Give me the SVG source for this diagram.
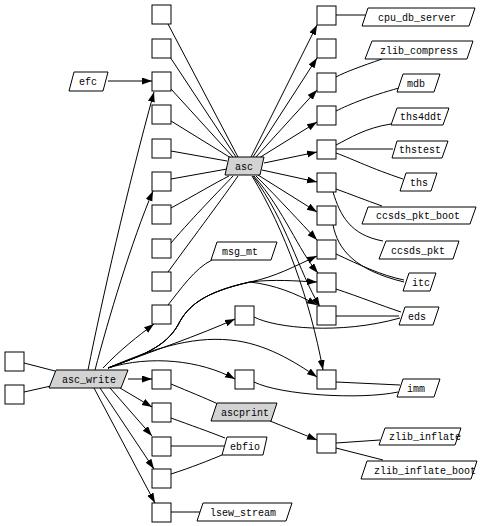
<svg xmlns="http://www.w3.org/2000/svg" width="482" height="526" viewBox="0 0 482 526">
<style>
.b{fill:#fff;stroke:#000;stroke-width:1}
.p{fill:#fff;stroke:#000;stroke-width:1}
.g{fill:#d3d3d3;stroke:#000;stroke-width:1}
text{font-family:"Liberation Mono","DejaVu Sans Mono",monospace;font-size:10px;text-anchor:middle;fill:#000;opacity:0.99}
#edges path{fill:none;stroke:#000;stroke-width:1}
#edges path.a{marker-end:url(#ah)}
</style>
<defs>
<marker id="ah" markerWidth="10" markerHeight="8" refX="10" refY="3.5" orient="auto" markerUnits="userSpaceOnUse">
<path d="M0,0 L10,3.5 L0,7 z" fill="#000"/>
</marker>
</defs>
<rect width="482" height="526" fill="#fff"/>
<g id="edges">
<path d="M24,363 L55,371"/>
<path d="M24,392 L51,386"/>
<path class="a" d="M108,81 L152,81"/>
<path d="M168,24 L238,157"/>
<path d="M170,57 L236,157"/>
<path d="M171,89 L233,157"/>
<path d="M171,121 L231,158"/>
<path d="M171,151 L227,161"/>
<path d="M171,179 L227,169"/>
<path d="M171,208 C195,195 215,183 229,176"/>
<path d="M171,243 C195,215 220,190 233,176"/>
<path d="M168,272 C195,235 225,195 238,176"/>
<path class="a" d="M251,157 L317,25"/>
<path class="a" d="M253,157 L317,58"/>
<path class="a" d="M256,157 L317,90"/>
<path class="a" d="M259,158 L317,122"/>
<path class="a" d="M264,163 L317,152"/>
<path class="a" d="M262,170 L317,182"/>
<path class="a" d="M258,175 L317,212"/>
<path class="a" d="M256,176 C280,200 300,222 317,240"/>
<path class="a" d="M254,176 C285,212 298,250 318,273"/>
<path class="a" d="M253,176 C287,222 298,270 320,307"/>
<path class="a" d="M252,176 C285,230 310,300 323,370"/>
<path class="a" d="M88,370 C102,300 127,190 154,92"/>
<path class="a" d="M95,370 C108,320 132,240 153,191"/>
<path class="a" d="M103,368 C120,350 138,336 154,324"/>
<path class="a" d="M128,379 L152,379"/>
<path class="a" d="M120,388 L152,407"/>
<path class="a" d="M110,388 L152,436"/>
<path class="a" d="M100,388 L154,469"/>
<path class="a" d="M94,388 L155,503"/>
<path class="a" d="M108,368 C140,356 165,348 178,325 C188,305 205,292 250,282 C275,277 295,266 317,256"/>
<path class="a" d="M108,368 C140,356 165,348 178,325 C188,305 205,292 250,282 C275,279 295,281 317,282"/>
<path class="a" d="M108,368 C140,356 165,348 178,325 C188,305 205,292 250,282 C275,285 295,293 317,305"/>
<path class="a" d="M108,368 C150,352 200,335 235,319"/>
<path class="a" d="M108,368 C150,350 190,336 230,340 C265,343 295,362 317,377"/>
<path class="a" d="M108,368 C150,355 200,360 235,379"/>
<path class="a" d="M270,421 C285,427 300,433 317,440"/>
<path d="M168,305 C180,290 195,268 212,260"/>
<path d="M171,384 C190,392 205,398 218,404"/>
<path d="M171,418 C190,425 210,432 225,438"/>
<path d="M171,446 L224,446"/>
<path d="M171,474 C190,468 210,460 222,455"/>
<path d="M171,512 L200,512"/>
<path d="M336,15 L365,15"/>
<path d="M336,77 C345,72 362,66 382,59"/>
<path d="M336,111 C350,104 370,96 399,88"/>
<path d="M336,145 C350,138 365,128 391,124"/>
<path d="M336,149 L393,149"/>
<path d="M336,153 C355,160 370,168 403,179"/>
<path d="M336,189 C350,194 365,200 382,206"/>
<path d="M333,192 C340,215 350,235 383,241"/>
<path d="M333,225 C338,250 355,270 404,282"/>
<path d="M336,254 C360,265 380,275 404,280"/>
<path d="M336,289 C360,297 380,305 401,312"/>
<path d="M336,316 L399,316"/>
<path d="M254,317 C275,328 340,335 400,318"/>
<path d="M336,382 L400,385"/>
<path d="M254,382 C280,395 360,400 398,392"/>
<path d="M336,443 L380,440"/>
<path d="M336,448 L383,460"/>
</g>
<g id="L1"><rect class="b" x="152" y="5" width="19" height="19"/></g>
<g id="L2"><rect class="b" x="152" y="39" width="19" height="19"/></g>
<g id="L3"><rect class="b" x="152" y="72" width="19" height="19"/></g>
<g id="L4"><rect class="b" x="152" y="105" width="19" height="19"/></g>
<g id="L5"><rect class="b" x="152" y="139" width="19" height="19"/></g>
<g id="L6"><rect class="b" x="152" y="172" width="19" height="19"/></g>
<g id="L7"><rect class="b" x="152" y="205" width="19" height="19"/></g>
<g id="L8"><rect class="b" x="152" y="239" width="19" height="19"/></g>
<g id="L9"><rect class="b" x="152" y="272" width="19" height="19"/></g>
<g id="L10"><rect class="b" x="152" y="305" width="19" height="19"/></g>
<g id="L11"><rect class="b" x="152" y="370" width="19" height="19"/></g>
<g id="L12"><rect class="b" x="152" y="403" width="19" height="19"/></g>
<g id="L13"><rect class="b" x="152" y="437" width="19" height="19"/></g>
<g id="L14"><rect class="b" x="152" y="469" width="19" height="19"/></g>
<g id="L15"><rect class="b" x="152" y="503" width="19" height="19"/></g>
<g id="R1"><rect class="b" x="317" y="6" width="19" height="19"/></g>
<g id="R2"><rect class="b" x="317" y="39" width="19" height="19"/></g>
<g id="R3"><rect class="b" x="317" y="73" width="19" height="19"/></g>
<g id="R4"><rect class="b" x="317" y="106" width="19" height="19"/></g>
<g id="R5"><rect class="b" x="317" y="140" width="19" height="19"/></g>
<g id="R6"><rect class="b" x="317" y="173" width="19" height="19"/></g>
<g id="R7"><rect class="b" x="317" y="206" width="19" height="19"/></g>
<g id="R8"><rect class="b" x="317" y="240" width="19" height="19"/></g>
<g id="R9"><rect class="b" x="317" y="273" width="19" height="19"/></g>
<g id="R10"><rect class="b" x="317" y="306" width="19" height="19"/></g>
<g id="R11"><rect class="b" x="317" y="370" width="19" height="19"/></g>
<g id="R12"><rect class="b" x="317" y="434" width="19" height="19"/></g>
<g id="M1"><rect class="b" x="235" y="306" width="19" height="19"/></g>
<g id="M2"><rect class="b" x="235" y="370" width="19" height="19"/></g>
<g id="F1"><rect class="b" x="5" y="352" width="19" height="19"/></g>
<g id="F2"><rect class="b" x="5" y="385" width="19" height="19"/></g>
<g id="asc"><polygon class="g" points="225,175 229,157 264,157 260,175"/><text x="244" y="170">asc</text></g>
<g id="asc_write"><polygon class="g" points="49,388 56,370 128,370 121,388"/><text x="89" y="383">asc_write</text></g>
<g id="ascprint"><polygon class="g" points="211,421 217,403 277,403 271,421"/><text x="245" y="416">ascprint</text></g>
<g id="efc"><polygon class="p" points="69,91 74,72 108,72 103,91"/><text x="88" y="85">efc</text></g>
<g id="msg_mt"><polygon class="p" points="211,260 217,242 277,242 271,260"/><text x="240" y="255">msg_mt</text></g>
<g id="ebfio"><polygon class="p" points="222,455 227,437 267,437 263,455"/><text x="245" y="450">ebfio</text></g>
<g id="lsew_stream"><polygon class="p" points="197,521 203,503 292,503 286,521"/><text x="243" y="516">lsew_stream</text></g>
<g id="cpu_db_server"><polygon class="p" points="362,26 368,8 475,8 469,26"/><text x="417" y="21">cpu_db_server</text></g>
<g id="zlib_compress"><polygon class="p" points="365,59 372,41 473,41 467,59"/><text x="419" y="54">zlib_compress</text></g>
<g id="mdb"><polygon class="p" points="397,92 403,74 440,74 434,92"/><text x="416" y="87">mdb</text></g>
<g id="ths4ddt"><polygon class="p" points="391,125 397,108 449,108 443,125"/><text x="421" y="120">ths4ddt</text></g>
<g id="thstest"><polygon class="p" points="392,158 397,141 448,141 442,158"/><text x="420" y="153">thstest</text></g>
<g id="ths"><polygon class="p" points="400,191 406,173 437,173 431,191"/><text x="419" y="186">ths</text></g>
<g id="ccsds_pkt_boot"><polygon class="p" points="362,224 368,207 476,207 470,224"/><text x="418" y="219">ccsds_pkt_boot</text></g>
<g id="ccsds_pkt"><polygon class="p" points="379,259 386,241 459,241 453,259"/><text x="418" y="254">ccsds_pkt</text></g>
<g id="itc"><polygon class="p" points="403,291 409,273 436,273 430,291"/><text x="421" y="286">itc</text></g>
<g id="eds"><polygon class="p" points="399,325 405,307 439,307 433,325"/><text x="417" y="320">eds</text></g>
<g id="imm"><polygon class="p" points="397,397 403,379 440,379 434,397"/><text x="416" y="392">imm</text></g>
<g id="zlib_inflate"><polygon class="p" points="379,445 385,428 461,428 455,445"/><text x="425" y="440">zlib_inflate</text></g>
<g id="zlib_inflate_boot"><polygon class="p" points="361,479 367,461 477,461 471,479"/><text x="425" y="474">zlib_inflate_boot</text></g>
</svg>
